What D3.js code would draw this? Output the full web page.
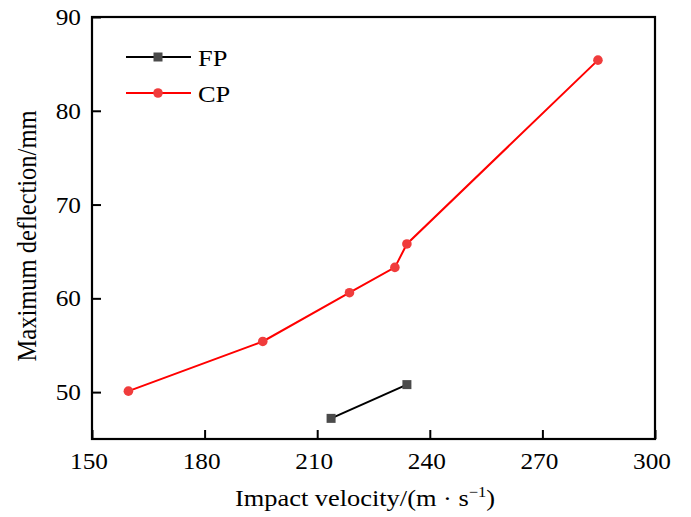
<!DOCTYPE html>
<html>
<head>
<meta charset="utf-8">
<script src="https://cdn.jsdelivr.net/npm/d3@7"></script>
<style>
  html, body { margin: 0; padding: 0; background: #fff; }
  svg text { font-family: "Liberation Serif", "Times New Roman", serif; fill: #000; }
</style>
</head>
<body>
<svg id="chart" width="691" height="517"></svg>
<script>
// Impact velocity (m/s) vs. maximum deflection (mm)
const fpVelocity = [213.7, 233.9];
const fpDeflection = [47.2, 50.8];
const cpVelocity = [159.7, 195.5, 218.6, 230.7, 233.9, 284.8];
const cpDeflection = [50.1, 55.4, 60.6, 63.3, 65.8, 85.4];
const xTicks = [150, 180, 210, 240, 270, 300];
const yTicks = [50, 60, 70, 80, 90];
const seriesNames = ["FP", "CP"];

const svg = d3.select("#chart");
const frame = { left: 92, right: 655, top: 17, bottom: 439 };
const textStretch = 1.1;

const x = d3.scaleLinear().domain([150, 300]).range([frame.left, frame.right]);
const y = d3.scaleLinear().domain([45, 90]).range([frame.bottom, frame.top]);

// horizontally widened serif text
function label(g, str, tx, ty, size, anchor, rotate) {
  const t = g.append("text")
    .attr("transform", `translate(${tx},${ty}) scale(${textStretch},1)` + (rotate ? ` rotate(${rotate})` : ""))
    .attr("text-anchor", anchor)
    .style("font-size", size + "px");
  return t.text(str);
}

// inward ticks on bottom and left
svg.append("g")
  .attr("transform", `translate(0,${frame.bottom})`)
  .call(d3.axisBottom(x).tickValues(xTicks).tickSize(-9).tickFormat(""))
  .call(g => g.select(".domain").remove())
  .call(g => g.selectAll("line").attr("stroke", "#000").attr("stroke-width", 2));

svg.append("g")
  .attr("transform", `translate(${frame.left},0)`)
  .call(d3.axisLeft(y).tickValues(yTicks).tickSize(-9).tickFormat(""))
  .call(g => g.select(".domain").remove())
  .call(g => g.selectAll("line").attr("stroke", "#000").attr("stroke-width", 2));

// frame
svg.append("rect")
  .attr("x", frame.left).attr("y", frame.top)
  .attr("width", frame.right - frame.left).attr("height", frame.bottom - frame.top)
  .attr("fill", "none").attr("stroke", "#000").attr("stroke-width", 2.2);

// tick labels
const labels = svg.append("g");
xTicks.forEach(v => label(labels, String(v), x(v) - 3, frame.bottom + 30, 23, "middle"));
yTicks.forEach(v => label(labels, String(v), frame.left - 11, y(v) + 8, 23, "end"));

// axis titles
const xt = label(svg, "", 365, 506, 24, "middle");
xt.text(null);
xt.append("tspan").text("Impact velocity/(m \u00b7 s");
xt.append("tspan").attr("dy", -9).style("font-size", "15px").text("\u22121");
xt.append("tspan").attr("dy", 9).text(")");

label(svg, "Maximum deflection/mm", 36, 236, 24.5, "middle", -90);

// series
const fpData = fpVelocity.map((v, i) => [v, fpDeflection[i]]);
const cpData = cpVelocity.map((v, i) => [v, cpDeflection[i]]);
const line = d3.line().x(d => x(d[0])).y(d => y(d[1]));

svg.append("path").datum(cpData).attr("d", line)
  .attr("fill", "none").attr("stroke", "#ff0000").attr("stroke-width", 2);
svg.append("path").datum(fpData).attr("d", line)
  .attr("fill", "none").attr("stroke", "#000").attr("stroke-width", 2);

svg.selectAll("circle.cp").data(cpData).join("circle")
  .attr("class", "cp")
  .attr("cx", d => x(d[0])).attr("cy", d => y(d[1])).attr("r", 4.8)
  .attr("fill", "#f03c3c");

svg.selectAll("rect.fp").data(fpData).join("rect")
  .attr("class", "fp")
  .attr("x", d => x(d[0]) - 4.5).attr("y", d => y(d[1]) - 4.5)
  .attr("width", 9).attr("height", 9)
  .attr("fill", "#4a4a4a");

// legend
const legend = svg.append("g");
const legendRows = [
  { name: seriesNames[0], color: "#000", marker: "square", fill: "#4a4a4a", yPos: 57 },
  { name: seriesNames[1], color: "#ff0000", marker: "circle", fill: "#f03c3c", yPos: 93 }
];
legendRows.forEach(r => {
  legend.append("line").attr("x1", 126).attr("x2", 191).attr("y1", r.yPos).attr("y2", r.yPos)
    .attr("stroke", r.color).attr("stroke-width", 2);
  if (r.marker === "square") {
    legend.append("rect").attr("x", 158 - 4.5).attr("y", r.yPos - 4.5).attr("width", 9).attr("height", 9).attr("fill", r.fill);
  } else {
    legend.append("circle").attr("cx", 158).attr("cy", r.yPos).attr("r", 4.8).attr("fill", r.fill);
  }
  label(legend, r.name, 198, r.yPos + 9, 24, "start");
});
</script>
</body>
</html>
